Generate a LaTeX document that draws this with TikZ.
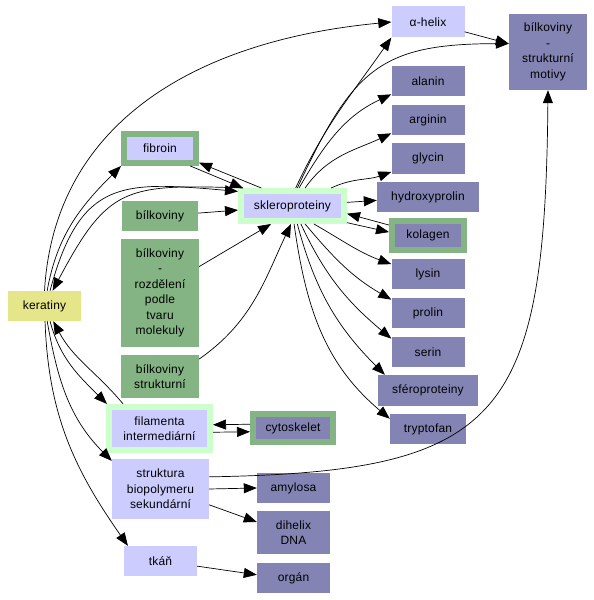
\documentclass[tikz,border=0pt]{standalone}
\usepackage{fontspec}
\setmainfont{Liberation Sans}[LetterSpace=1.5]
\usepackage{xcolor}
\usetikzlibrary{positioning,arrows.meta}

\definecolor{lila}{HTML}{CCCCFF}
\definecolor{morado}{HTML}{8484B4}
\definecolor{verde}{HTML}{84B484}
\definecolor{verdeclaro}{HTML}{CCFFCC}
\definecolor{amarillo}{HTML}{E5E58A}

\begin{document}
\begin{tikzpicture}[x=1pt,y=1pt,
    caja/.style={inner sep=1pt, align=center, minimum width=73pt, minimum height=30pt,
      font=\fontsize{12}{15.5}\selectfont},
    nlila/.style={caja, fill=lila},
    nmorado/.style={caja, fill=morado},
    nverde/.style={caja, fill=verde},
    namarillo/.style={caja, fill=amarillo},
    marco/.style={draw=#1, line width=6pt},
    flecha/.style={-{Triangle[length=13pt,width=10pt]}, line width=0.7pt}]
  \useasboundingbox (0,0) rectangle (594,600);

  % Nodo central
  \node[nlila, marco=verdeclaro, minimum width=103pt] (sklero) at (292.5,394) {skleroproteiny};

  % Columna derecha
  \node[nlila, minimum height=31pt] (helix) at (428,578) {α-helix};
  \node[nmorado, minimum width=78pt, minimum height=76pt] (motivy) at (548,548) {bílkoviny\\-\\strukturní\\motivy};
  \node[nmorado] (alanin) at (428,519) {alanin};
  \node[nmorado] (arginin) at (428,480) {arginin};
  \node[nmorado, minimum height=31pt] (glycin) at (428,441.5) {glycin};
  \node[nmorado, minimum width=102pt] (hydroxy) at (428,403) {hydroxyprolin};
  \node[nmorado, marco=verde, minimum width=72pt, minimum height=29pt] (kolagen) at (428,364.5) {kolagen};
  \node[nmorado] (lysin) at (428,326) {lysin};
  \node[nmorado] (prolin) at (428,287) {prolin};
  \node[nmorado] (serin) at (428,248) {serin};
  \node[nmorado, minimum width=100pt, minimum height=31pt] (sfero) at (428,209.5) {sféroproteiny};
  \node[nmorado, minimum width=76pt] (trypto) at (428,171) {tryptofan};

  % Columna izquierda
  \node[nlila, marco=verde, minimum width=72pt, minimum height=29pt] (fibroin) at (160,451.5) {fibroin};
  \node[nverde, minimum width=76pt] (bilk) at (160,384) {bílkoviny};
  \node[nverde, minimum width=78pt, minimum height=108pt] (rozd) at (160,307) {bílkoviny\\-\\rozdělení\\podle\\tvaru\\molekuly};
  \node[nverde, minimum width=78pt, minimum height=43pt] (strukt) at (160,223.5) {bílkoviny\\strukturní};
  \node[namarillo] (kera) at (44.5,294) {keratiny};
  \node[nlila, marco=verdeclaro, minimum width=101pt, minimum height=43pt] (filam) at (159.5,171.5) {filamenta\\intermediární};
  \node[nlila, minimum width=97pt, minimum height=60pt] (biopol) at (160.5,111) {struktura\\biopolymeru\\sekundární};
  \node[nlila] (tkan) at (160.5,39) {tkáň};

  % Abajo a la derecha
  \node[nmorado, marco=verde, minimum width=80pt, minimum height=28pt] (cyto) at (293,172) {cytoskelet};
  \node[nmorado] (amyl) at (293.5,112) {amylosa};
  \node[nmorado, minimum height=43pt] (dihelix) at (293.5,67.5) {dihelix\\DNA};
  \node[nmorado] (organ) at (293.5,22) {orgán};

  % Conexiones desde keratiny
  \draw[flecha] (kera.90) .. controls +(10,171) and +(-191,-18) .. (helix.west);
  \draw[flecha] (kera.80) to[out=80,in=225] (fibroin.south west);
  \draw[flecha] (kera.70) to[out=75,in=175,looseness=1.4] (sklero.165);
  \draw[flecha] (sklero.160) to[out=178,in=62,looseness=1.4] (kera.62);
  \draw[flecha] (kera.-70) to[out=-75,in=135] (filam.155);
  \draw[flecha] (filam.146) to[out=130,in=-62] (kera.-60);
  \draw[flecha] (kera.-80) to[out=-80,in=135] (biopol.150);
  \draw[flecha] (kera.-88) to[out=-88,in=125] (tkan.155);

  % Conexiones hacia skleroproteiny
  \draw[flecha] (fibroin.-30) -- (sklero.160);
  \draw[flecha] (sklero.150) -- (fibroin.-20);
  \draw[flecha] (bilk) -- (sklero);
  \draw[flecha] (rozd.34) -- (sklero.-140);
  \draw[flecha] (strukt.24) to[out=35,in=-115] (sklero.-95);

  % Conexiones desde skleroproteiny
  \draw[flecha] (sklero.80) to[out=65,in=235] (helix.south west);
  \draw[flecha] (sklero.75) to[out=65,in=180,looseness=1.3] (motivy.168);
  \draw[flecha] (helix.-15) -- (motivy.168);
  \draw[flecha] (sklero.70) to[out=60,in=205] (alanin.200);
  \draw[flecha] (sklero.55) to[out=55,in=205] (arginin.200);
  \draw[flecha] (sklero.25) to[out=25,in=200] (glycin.200);
  \draw[flecha] (sklero) -- (hydroxy);
  \draw[flecha] (kolagen.165) -- (sklero.-8);
  \draw[flecha] (sklero.-17) -- (kolagen.175);
  \draw[flecha] (sklero.-40) to[out=-30,in=160] (lysin.165);
  \draw[flecha] (sklero.-55) to[out=-50,in=150] (prolin.160);
  \draw[flecha] (sklero.-65) to[out=-65,in=140] (serin.160);
  \draw[flecha] (sklero.-75) to[out=-75,in=135] (sfero.160);
  \draw[flecha] (sklero.-85) to[out=-82,in=140] (trypto.165);

  % Resto
  \draw[flecha] (cyto.175) -- (filam.4);
  \draw[flecha] (filam.-4) -- (cyto.-175);
  \draw[flecha] (biopol.east) -- (amyl.west);
  \draw[flecha] (biopol.-18) -- (dihelix.164);
  \draw[flecha] (biopol.14) .. controls +(292,5) and +(-3,-330) .. (motivy.south);
  \draw[flecha] (tkan.-8) -- (organ.175);
\end{tikzpicture}
\end{document}
